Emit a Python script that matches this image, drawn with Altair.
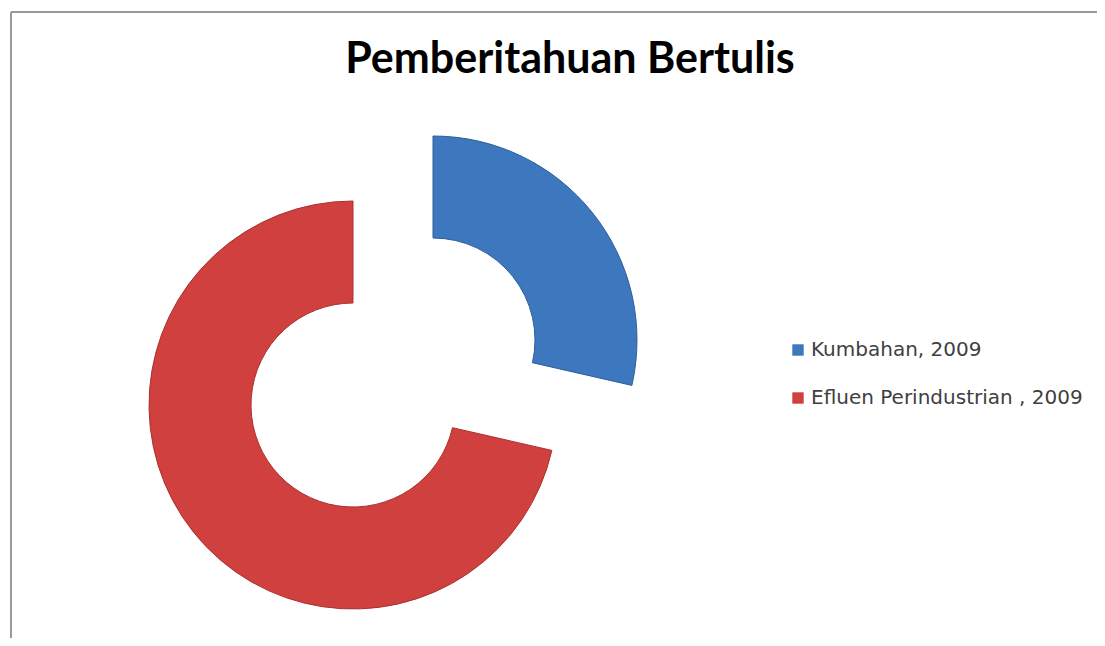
import altair as alt
import pandas as pd

# ---- data ----
categories = ["Kumbahan, 2009", "Efluen Perindustrian , 2009"]
values = [2, 5]
order = [0, 1]
colors = ["#3D78BE", "#D0403E"]
edge_colors = ["#2E5E9A", "#A83230"]
title_text = ["Pemberitahuan Bertulis"]

df = pd.DataFrame({"kategori": categories, "nilai": values, "urutan": order})
total = sum(values)

W, H = 1089, 630

base = alt.Chart(df).transform_stack(
    stack="nilai", as_=["t0", "t1"], groupby=[], sort=[alt.SortField("urutan")]
)

color = alt.Color(
    "kategori:N",
    scale=alt.Scale(domain=categories, range=colors),
    legend=alt.Legend(
        title=None,
        orient="none",
        legendX=780,
        legendY=332,
        symbolType="square",
        symbolSize=130,
        symbolStrokeWidth=0,
        labelFont="DejaVu Sans",
        labelFontSize=20,
        labelColor="#404040",
        labelLimit=500,
        rowPadding=28,
        labelOffset=3,
        padding=0,
    ),
)


def slice_layer(cat, edge, cx, cy):
    return (
        base.transform_filter(alt.datum.kategori == cat)
        .mark_arc(innerRadius=102, outerRadius=204, stroke=edge, strokeWidth=1)
        .encode(
            theta=alt.Theta("t0:Q", scale=alt.Scale(domain=[0, total])),
            theta2="t1:Q",
            color=color,
            x=alt.value(cx),
            y=alt.value(cy),
        )
    )


blue = slice_layer(categories[0], edge_colors[0], 425, 332)
red = slice_layer(categories[1], edge_colors[1], 345, 397)

title = (
    alt.Chart(pd.DataFrame({"judul": title_text}))
    .mark_text(font="Lato", fontWeight="bold", fontSize=43, align="center",
               baseline="alphabetic", color="#000000")
    .encode(text="judul:N", x=alt.value(562), y=alt.value(65))
)

border_top = alt.Chart().mark_rule(color="#999999", strokeWidth=2).encode(
    x=alt.value(3), x2=alt.value(W), y=alt.value(4), y2=alt.value(4)
)
border_left = alt.Chart().mark_rule(color="#999999", strokeWidth=2).encode(
    x=alt.value(3), x2=alt.value(3), y=alt.value(4), y2=alt.value(H)
)

chart = (
    alt.layer(border_top, border_left, title, blue, red)
    .properties(
        width=W,
        height=H,
        padding=0,
        autosize=alt.AutoSizeParams(type="fit", contains="padding"),
    )
    .configure_view(stroke=None)
)

chart.save("out.html", embed_options={"renderer": "svg", "actions": False})
